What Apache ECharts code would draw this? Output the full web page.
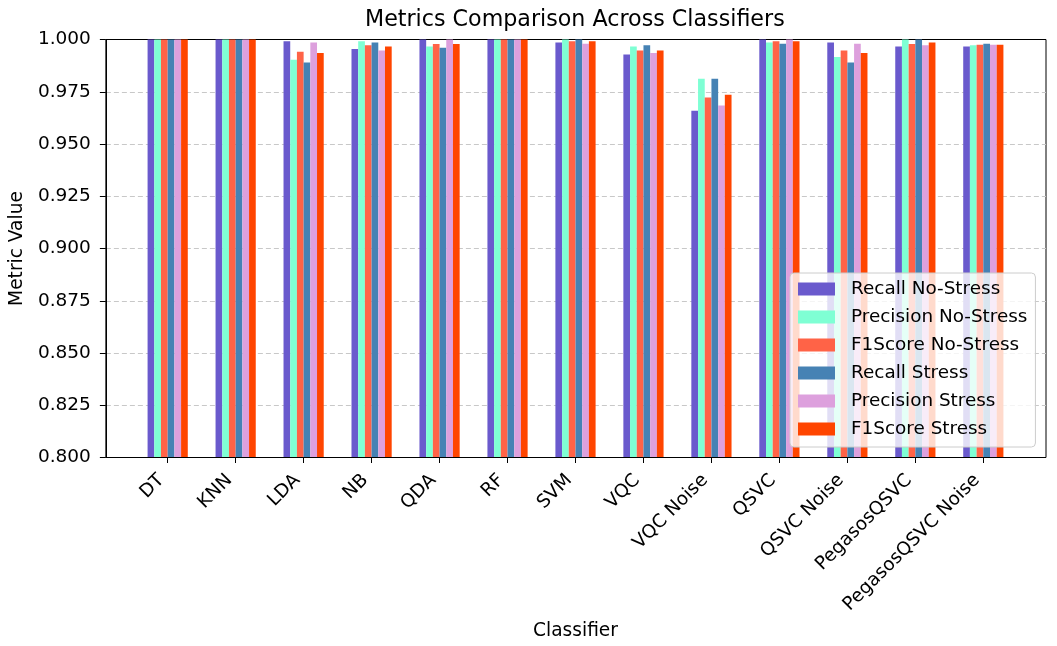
<!DOCTYPE html>
<html>
<head>
<meta charset="utf-8">
<title>Metrics Comparison Across Classifiers</title>
<script src="https://cdn.jsdelivr.net/npm/echarts@6/dist/echarts.min.js"></script>
<style>
  html,body{margin:0;padding:0;background:#fff;}
  #chart{width:1057px;height:646px;}
</style>
</head>
<body>
<div id="chart"></div>
<script>
// classifiers on the x axis
var classifiers=['DT','KNN','LDA','NB','QDA','RF','SVM','VQC','VQC Noise','QSVC','QSVC Noise','PegasosQSVC','PegasosQSVC Noise'];

// metric values, one list per series
var recallNoStress   =[1.000,1.000,0.9992,0.9954,1.000,1.000,0.9986,0.9928,0.9659,1.000,0.9986,0.9967,0.9967];
var precisionNoStress=[1.000,1.000,0.9903,0.9992,0.9967,1.000,1.000,0.9967,0.9812,0.9986,0.9916,1.000,0.9973];
var f1NoStress       =[1.000,1.000,0.9941,0.9973,0.9979,1.000,0.9992,0.9947,0.9722,0.9992,0.9947,0.9979,0.9975];
var recallStress     =[1.000,1.000,0.9890,0.9986,0.9960,1.000,1.000,0.9973,0.9812,0.9980,0.9890,1.000,0.9980];
var precisionStress  =[1.000,1.000,0.9986,0.9947,1.000,1.000,0.9980,0.9935,0.9684,1.000,0.9980,0.9973,0.9975];
var f1Stress         =[1.000,1.000,0.9935,0.9967,0.9979,1.000,0.9992,0.9947,0.9735,0.9992,0.9935,0.9986,0.9975];

var seriesNames=['Recall No-Stress','Precision No-Stress','F1Score No-Stress','Recall Stress','Precision Stress','F1Score Stress'];
var seriesData=[recallNoStress,precisionNoStress,f1NoStress,recallStress,precisionStress,f1Stress];
var colors=['#6A5ACD','#7FFFD4','#FF6347','#4682B4','#DDA0DD','#FF4500'];

var font='DejaVu Sans';
var chart=echarts.init(document.getElementById('chart'),null,{renderer:'canvas'});

var series=[];
for(var i=0;i<seriesNames.length;i++){
	series.push({
		name:seriesNames[i],
		type:'bar',
		xAxisIndex:1,
		yAxisIndex:1,
		data:seriesData[i],
		barWidth:6.7,
		barGap:'0%',
		itemStyle:{color:colors[i]},
		emphasis:{disabled:true}
	});
}

var option={
	animation:false,
	color:colors,
	title:{
		text:'Metrics Comparison Across Classifiers',
		left:360,
		top:4,
		textStyle:{fontFamily:font,fontSize:22.2,fontWeight:'normal',color:'#000'}
	},
	legend:{
		orient:'vertical',
		left:790,
		top:273,
		padding:[6,8,8,8],
		icon:'rect',
		itemWidth:37,
		itemHeight:13,
		itemGap:8,
		backgroundColor:'rgba(255,255,255,0.8)',
		borderColor:'#cccccc',
		borderWidth:1,
		borderRadius:4,
		z:10,
		data:seriesNames,
		textStyle:{fontFamily:font,fontSize:18.4,color:'#000',lineHeight:20,padding:[0,0,0,11]}
	},
	grid:[
		// outer frame, y axis and grid lines
		{left:105,right:11,top:39.5,height:418,show:true,borderColor:'#000',borderWidth:1,backgroundColor:'transparent'},
		// inner grid holding the bars
		{left:133.7,right:39.7,top:39.5,height:418}
	],
	xAxis:[
		{gridIndex:0,type:'value',min:0,max:1,show:false},
		{
			gridIndex:1,
			type:'category',
			data:classifiers,
			boundaryGap:true,
			name:'Classifier',
			nameLocation:'middle',
			nameGap:165,
			nameTextStyle:{fontFamily:font,fontSize:18.6,color:'#000'},
			axisLine:{show:false},
			axisTick:{show:true,alignWithLabel:true,length:6,lineStyle:{color:'#000'}},
			axisLabel:{rotate:45,interval:0,margin:14,padding:[0,9,0,0],fontFamily:font,fontSize:18.5,color:'#000'},
			splitLine:{show:false}
		}
	],
	yAxis:[
		{
			gridIndex:0,
			type:'value',
			min:0.8,
			max:1.0,
			interval:0.025,
			name:'Metric Value',
			nameLocation:'middle',
			nameGap:71,
			nameTextStyle:{fontFamily:font,fontSize:18.6,color:'#000'},
			axisLine:{show:true,lineStyle:{color:'#000'}},
			axisTick:{show:true,length:6,lineStyle:{color:'#000'}},
			axisLabel:{margin:15,fontFamily:font,fontSize:18.5,color:'#000',formatter:function(v){return v.toFixed(3);}},
			splitLine:{show:true,showMinLine:false,showMaxLine:false,lineStyle:{color:'#c8c8c8',type:[5,3],width:1}}
		},
		{gridIndex:1,type:'value',min:0.8,max:1.0,show:false}
	],
	series:series
};
chart.setOption(option);
</script>
</body>
</html>
